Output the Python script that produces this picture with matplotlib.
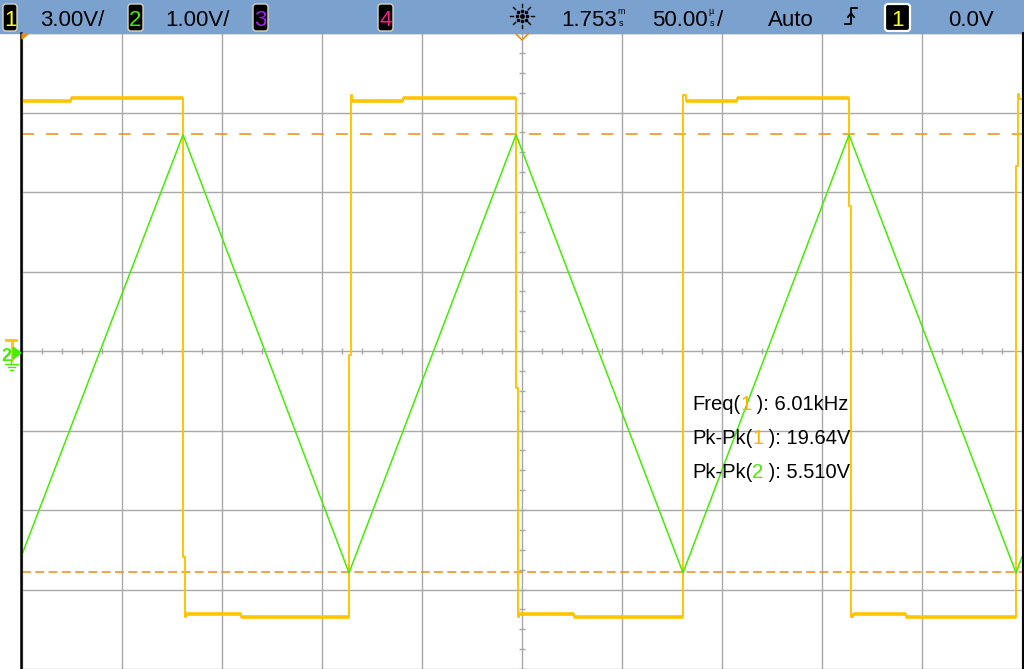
import numpy as np
import matplotlib
matplotlib.use("Agg")
import matplotlib.pyplot as plt
from matplotlib import font_manager
from matplotlib.patches import Rectangle, FancyBboxPatch, Polygon

plt.rcParams['font.family'] = ['Liberation Sans', 'DejaVu Sans']
installed = {f.name for f in font_manager.fontManager.ttflist}
if 'Liberation Sans Narrow' in installed:
    bar_font, bar_size = 'Liberation Sans Narrow', 17.5
else:
    bar_font, bar_size = 'Liberation Sans', 16

# scope settings
ch1_scale = 3.0      # V/div
ch2_scale = 1.0      # V/div
time_scale = 50.0    # us/div
n_xdiv = 10

# channel 2: triangle vertices (time us from left edge, volts)
t_ch2 = [0, 80.5, 163.5, 247, 330.5, 413.5, 497, 500]
v_ch2 = [-2.56, 2.72, -2.79, 2.72, -2.79, 2.72, -2.79, -2.59]

# channel 1: square wave trace vertices (time us, volts)
t_ch1 = [0, 24.5, 24.5, 80.5, 80.5, 81.25, 81.25, 82, 82, 109.5, 109.5, 163.5,
         163.5, 164.25, 164.25, 165, 165, 190.5, 190.5, 247,
         247, 247.75, 247.75, 248.5, 248.5, 276, 276, 330.5,
         330.5, 332, 332, 357.5, 357.5, 413.5,
         413.5, 414.25, 414.25, 415.5, 415.5, 442, 442, 497,
         497, 497.75, 497.75, 498.5, 498.5, 500]
v_ch1 = [9.45, 9.45, 9.56, 9.56, -7.76, -7.76, -10.05, -10.05, -9.94, -9.94, -10.05, -10.05,
         -0.15, -0.15, 9.67, 9.67, 9.45, 9.45, 9.56, 9.56,
         -1.39, -1.39, -10.05, -10.05, -9.94, -9.94, -10.05, -10.05,
         9.67, 9.67, 9.45, 9.45, 9.56, 9.56,
         5.48, 5.48, -10.05, -10.05, -9.94, -9.94, -10.05, -10.05,
         6.98, 6.98, 9.71, 9.71, 9.52, 9.52]

# pk-pk cursor levels for channel 2 (volts)
cursor_top = 2.725
cursor_bot = -2.785

# measurements
meas_labels = ["Freq(", "Pk-Pk(", "Pk-Pk("]
meas_chan = ["1", "1", "2"]
meas_values = ["6.01kHz", "19.64V", "5.510V"]

# status bar
ch_scales_txt = ["3.00V/", "1.00V/"]
delay_txt = "1.753"
timebase_txt = "50.00"
trig_mode = "Auto"
trig_level = "0.0V"

c_ch1 = '#ffc400'
c_ch1_txt = '#ffb000'
c_ch2 = '#44ee00'
c_ch3 = '#a020f0'
c_ch4 = '#ff1a8c'
c_cursor = '#f08a10'
c_grid = '#a8a8a8'
c_bar = '#7ba1cf'

W, H = 1024, 669
fig = plt.figure(figsize=(W / 100, H / 100), dpi=100)
fig.patch.set_facecolor('white')
rend = fig.canvas.get_renderer()

top_px, left_px, right_px = 33, 22, 1022
ax = fig.add_axes([left_px / W, 0, (right_px - left_px) / W, (H - top_px) / H])
ax.set_xlim(0, n_xdiv * time_scale)
ax.set_ylim(4 - (H - top_px) / 80, 4)
ax.set_facecolor('white')
for s in ax.spines.values():
    s.set_visible(False)
ax.set_xticks(np.arange(0, n_xdiv * time_scale + 1, time_scale))
ax.set_yticks(np.arange(-4, 5, 1))
ax.tick_params(length=0, labelbottom=False, labelleft=False)
ax.grid(True, color=c_grid, lw=1.0)

# minor ticks on center lines
xt = np.arange(0, n_xdiv * time_scale + 0.1, time_scale / 5)
ax.vlines(xt, -0.035, 0.035, color=c_grid, lw=1.0)
yt = np.arange(-4, 4.01, 0.25)
ax.hlines(yt, 250 - 1.3, 250 + 1.3, color=c_grid, lw=1.0)

# cursors
l1, = ax.plot([0, 500], [cursor_top / ch2_scale] * 2, color=c_cursor, lw=1.1)
l1.set_dashes([7.9, 7.9])
l2, = ax.plot([0, 500], [cursor_bot / ch2_scale] * 2, color=c_cursor, lw=1.1)
l2.set_dashes([5.8, 2.9])

# channel 1 trace
t1 = np.array(t_ch1)
y1 = np.array(v_ch1) / ch1_scale
ax.plot(t1, y1, color=c_ch1, lw=1.4, zorder=3)
for i in range(len(t1) - 1):
    if y1[i] == y1[i + 1] and t1[i + 1] - t1[i] > 2:
        ax.plot(t1[i:i + 2], y1[i:i + 2], color=c_ch1, lw=2.6,
                solid_capstyle='butt', zorder=3)

# channel 2 trace
ax.plot(t_ch2, np.array(v_ch2) / ch2_scale, color=c_ch2, lw=1.1, zorder=4)

# overlay in pixel coordinates for screen furniture
ov = fig.add_axes([0, 0, 1, 1], facecolor='none')
ov.set_xlim(0, W)
ov.set_ylim(H, 0)
ov.axis('off')

ov.add_patch(Rectangle((0, 0), W, top_px, color=c_bar, zorder=1))
ov.plot([21, 21], [top_px, H], color='black', lw=1.8)
ov.plot([1022.5, 1022.5], [top_px, H], color='black', lw=1.4)
ov.add_patch(Rectangle((1023.5, top_px), 1, H - top_px, color=c_bar))


def bar_text(x, s, size=None, y=25.5, **kw):
    return ov.text(x, y, s, fontsize=size or bar_size, family=[bar_font, 'DejaVu Sans'],
                   va='baseline', zorder=3, **kw)


def right_of(t, gap=1):
    return t.get_window_extent(rend).x1 + gap


def chan_box(x0, x1, digit, col, edge='#d8d4c0', elw=1.0):
    ov.add_patch(FancyBboxPatch((x0, 4), x1 - x0, 27, boxstyle='round,pad=0,rounding_size=3',
                                fc='black', ec=edge, lw=elw, zorder=2))
    bar_text((x0 + x1) / 2, digit, color=col, ha='center')


chan_box(3, 17, "1", '#ffff10')
bar_text(40, ch_scales_txt[0])
chan_box(128, 143, "2", c_ch2)
bar_text(165, ch_scales_txt[1])
chan_box(253, 268, "3", c_ch3)
chan_box(378, 393, "4", c_ch4)

# acquisition icon
cx, cy = 522, 16
ov.plot(cx, cy, 'o', color='black', ms=2.5, zorder=3)
for a in np.arange(0, 360, 45):
    r = np.deg2rad(a)
    ov.plot(cx + 5 * np.cos(r), cy + 5 * np.sin(r), 's', color='black', ms=1.8, zorder=3)
    ov.plot([cx + 9 * np.cos(r), cx + 12 * np.cos(r)], [cy + 9 * np.sin(r), cy + 12 * np.sin(r)],
            color='black', lw=1.0, zorder=3)

t = bar_text(561, delay_txt)
xu = right_of(t)
bar_text(xu, "m", size=6.5, y=14)
bar_text(xu + 1, "s", size=6.5, y=26)
t = bar_text(652, timebase_txt)
xu = right_of(t)
bar_text(xu, "\u00b5", size=6.5, y=14)
bar_text(xu + 1, "s", size=6.5, y=26)
bar_text(xu + 8, "/")
bar_text(768, trig_mode)
# rising edge trigger symbol
ov.plot([845, 851, 851, 857], [24, 24, 8, 8], color='black', lw=1.3, zorder=3)
ov.plot([848, 851, 854], [17, 13, 17], color='black', lw=1.3, zorder=3)
chan_box(885, 910, "1", '#ffff10', edge='white', elw=1.6)
bar_text(948, trig_level)

# time reference / trigger position markers
ov.add_patch(Polygon([[22, 34], [28, 34], [22, 39]], color=c_cursor, zorder=3))
ov.plot([516, 522, 528], [34, 40, 34], color=c_cursor, lw=1.2, zorder=3)

# ground markers on left
ov.plot([6, 16], [340, 340], color=c_ch1, lw=2.0)
ov.plot([11.5, 11.5], [340, 360], color=c_ch1, lw=2.0)
ov.text(1, 361, "2", color=c_ch2, fontsize=13, fontweight='bold', va='baseline', zorder=3)
ov.add_patch(Polygon([[13, 347], [21, 353], [13, 359]], color=c_ch2, zorder=3))
ov.plot([11, 11], [360, 364], color=c_ch2, lw=1.0)
ov.plot([5, 18], [364, 364], color=c_ch2, lw=1.0)
ov.plot([8, 15], [367, 367], color=c_ch2, lw=1.0)
ov.plot([10, 13], [370, 370], color=c_ch2, lw=1.0)

# measurement readout
for i, (lab, ch, val) in enumerate(zip(meas_labels, meas_chan, meas_values)):
    yb = 410 + 34 * i
    x = 692
    col = c_ch1_txt if ch == "1" else c_ch2
    for piece, pc in [(lab, 'black'), (ch, col), (" ): " + val, 'black')]:
        t = ov.text(x, yb, piece, color=pc, fontsize=14.5, va='baseline', zorder=5)
        x = right_of(t, 0)

fig.savefig("out.png", dpi=100)
